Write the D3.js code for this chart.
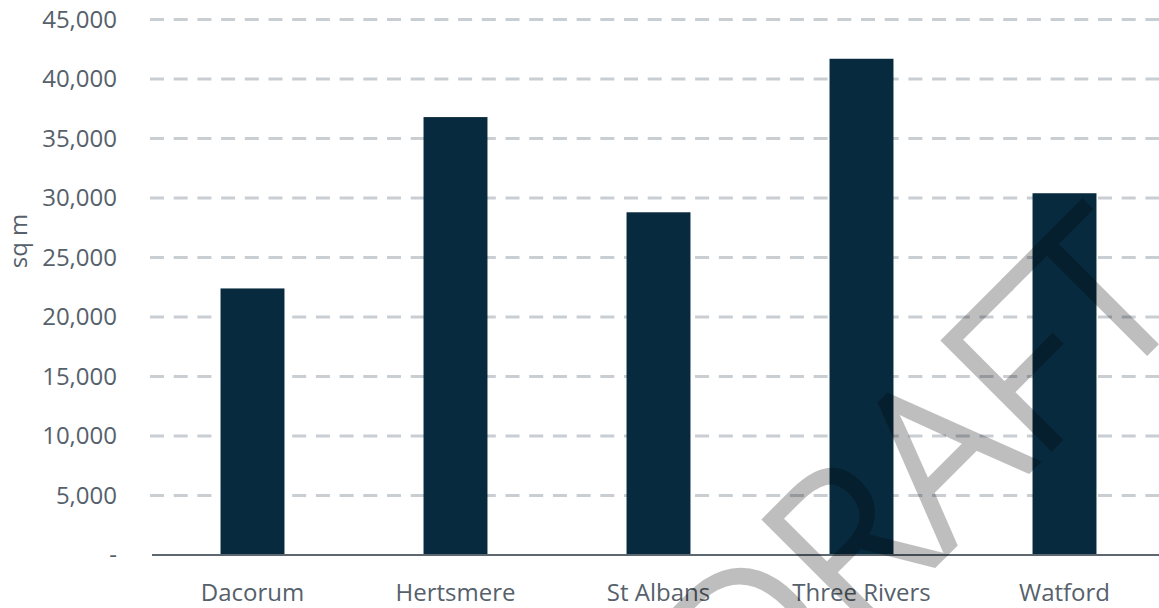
<!DOCTYPE html>
<html>
<head>
<meta charset="utf-8">
<script src="https://cdn.jsdelivr.net/npm/d3@7"></script>
<style>
  body { margin: 0; background: #fff; }
  svg { display: block; }
  .tickLabel, .catLabel, .axisTitle { font-family: "Open Sans", "Noto Sans", sans-serif; font-size: 24px; fill: #56616b; }
  .watermark { font-family: "Open Sans", "Noto Sans", sans-serif; font-weight: 300; font-size: 212px; fill: #000; stroke: #000; stroke-width: 6px; stroke-linejoin: miter; }
</style>
</head>
<body>
<div id="chart"></div>
<script>
var categories = ["Dacorum", "Hertsmere", "St Albans", "Three Rivers", "Watford"];
var floorspace = [22400, 36800, 28800, 41700, 30400];
var yTicks = [0, 5000, 10000, 15000, 20000, 25000, 30000, 35000, 40000, 45000];

var dims = {width: 1159, height: 608, margin: {top: 19.5, right: -7, bottom: 53, left: 151}};
var innerW = dims.width - dims.margin.left - dims.margin.right;
var innerH = dims.height - dims.margin.top - dims.margin.bottom;

var data = categories.map(function(c, i) { return {name: c, value: floorspace[i]}; });

var xScale = d3.scaleBand()
    .domain(categories)
    .range([0, innerW])
    .paddingInner(0.685)
    .paddingOuter(0.3425);

var yScale = d3.scaleLinear()
    .domain([0, 45000])
    .range([innerH, 0]);

var fmt = d3.format(",");

var svg = d3.select("#chart")
    .append("svg")
    .attr("width", dims.width)
    .attr("height", dims.height);

var g = svg.append("g")
    .attr("transform", "translate(" + dims.margin.left + "," + dims.margin.top + ")");

// dashed gridlines
g.selectAll(".grid")
    .data(yTicks.filter(function(d) { return d > 0; }))
    .enter()
    .append("line")
    .attr("class", "grid")
    .attr("x1", -1)
    .attr("x2", innerW)
    .attr("y1", function(d) { return yScale(d); })
    .attr("y2", function(d) { return yScale(d); })
    .attr("stroke", "#c9ced3")
    .attr("stroke-width", 3)
    .attr("stroke-dasharray", "14,9.7");

// tick labels
g.selectAll(".tickLabel")
    .data(yTicks)
    .enter()
    .append("text")
    .attr("class", "tickLabel")
    .attr("x", -34)
    .attr("y", function(d) { return yScale(d); })
    .attr("dy", "0.35em")
    .attr("text-anchor", "end")
    .text(function(d) { return d === 0 ? "-" : fmt(d); });

// bars
g.selectAll(".bar")
    .data(data)
    .enter()
    .append("rect")
    .attr("class", "bar")
    .attr("x", function(d) { return xScale(d.name); })
    .attr("y", function(d) { return yScale(d.value); })
    .attr("width", xScale.bandwidth())
    .attr("height", function(d) { return innerH - yScale(d.value); })
    .attr("fill", "#082a3e");

// baseline
g.append("line")
    .attr("x1", 1)
    .attr("x2", innerW)
    .attr("y1", innerH)
    .attr("y2", innerH)
    .attr("stroke", "#5d6770")
    .attr("stroke-width", 2);

// category labels
g.selectAll(".catLabel")
    .data(data)
    .enter()
    .append("text")
    .attr("class", "catLabel")
    .attr("x", function(d) { return xScale(d.name) + xScale.bandwidth() / 2; })
    .attr("y", innerH + 46)
    .attr("text-anchor", "middle")
    .text(function(d) { return d.name; });

// y axis title
svg.append("text")
    .attr("class", "axisTitle")
    .attr("transform", "translate(27," + 241 + ") rotate(-90)")
    .attr("text-anchor", "middle")
    .text("sq m");

// DRAFT watermark (group opacity so fill and stroke blend as one)
svg.append("g")
    .attr("opacity", 0.25)
    .append("text")
    .attr("class", "watermark")
    .attr("transform", "translate(971,528) rotate(-45)")
    .attr("text-anchor", "middle")
    .text("DRAFT");
</script>
</body>
</html>
